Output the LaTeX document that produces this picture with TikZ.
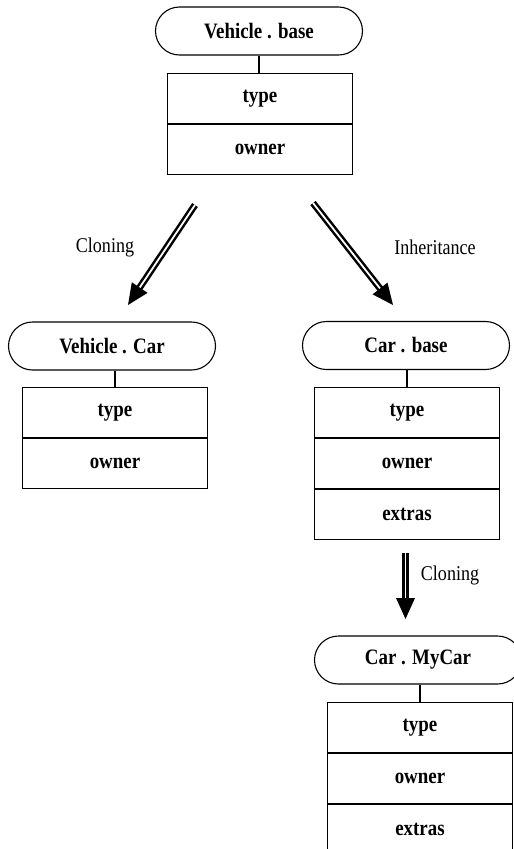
\documentclass[tikz,border=0pt]{standalone}
\usepackage{fontspec}
\setmainfont{Liberation Serif}[FakeStretch=0.86]
\usetikzlibrary{calc}
\tikzset{
  pill/.style={draw, line width=1.1pt, rounded corners=24pt, minimum width=207pt,
    minimum height=48pt, inner sep=0pt, font=\fontsize{22}{26}\selectfont\bfseries},
  slot/.style={draw, line width=1.1pt, minimum width=185pt, minimum height=50pt,
    inner sep=0pt, anchor=north, font=\fontsize{22}{26}\selectfont\bfseries},
  link/.style={line width=1.1pt},
  dbl/.style={double, double distance=1.8pt, line width=2.5pt},
  note/.style={font=\fontsize{21}{25}\selectfont}
}
% double-shafted arrow with a solid triangular head, from #1 to #2
\newcommand{\fatarrow}[2]{%
  \draw[dbl] (#1) -- ($(#2)!17pt!(#1)$);
  \fill ($(#2)!21pt!(#1)!9.5pt!90:(#1)$) -- (#2) -- ($(#2)!21pt!(#1)!9.5pt!-90:(#1)$) -- cycle;
}
\begin{document}
\begin{tikzpicture}[x=1pt,y=-1pt]
\useasboundingbox (0,0) rectangle (514,849);
\clip (0,0) rectangle (514,849);

% Vehicle.base
\node[pill] (vb) at (259,31) {Vehicle . base};
\node[slot] (vbt) at (260,73) {type};
\node[slot] (vbo) at (vbt.south) {owner};
\draw[link] (vb.south) -- (vb.south |- vbt.north);

% Vehicle.Car
\node[pill] (vc) at (112,346) {Vehicle . Car};
\node[slot] (vct) at (115,387) {type};
\node[slot] (vco) at (vct.south) {owner};
\draw[link] (vct.north |- vc.south) -- (vct.north);

% Car.base
\node[pill] (cb) at (406,345.5) {Car . base};
\node[slot] (cbt) at (407,387) {type};
\node[slot] (cbo) at (cbt.south) {owner};
\node[slot] (cbe) at (cbo.south) {extras};
\draw[link] (cbt.north |- cb.south) -- (cbt.north);

% Car.MyCar
\node[pill] (mc) at (418,660) {Car . MyCar};
\node[slot] (mct) at (420,702) {type};
\node[slot] (mco) at (mct.south) {owner};
\node[slot] (mce) at (mco.south) {extras};
\draw[link] (mct.north |- mc.south) -- (mct.north);

% relations
\coordinate (a1s) at (195,205);
\coordinate (a1e) at (128,305);
\coordinate (a2s) at (313,203);
\coordinate (a2e) at (393,305);
\coordinate (a3s) at (405.5,553);
\coordinate (a3e) at (405.5,619);
\fatarrow{a1s}{a1e}
\fatarrow{a2s}{a2e}
\fatarrow{a3s}{a3e}
\node[note] (l1) at (105,247) {Cloning};
\node[note] (l2) at (435,247) {Inheritance};
\node[note] (l3) at (450,575) {Cloning};
\end{tikzpicture}
\end{document}
